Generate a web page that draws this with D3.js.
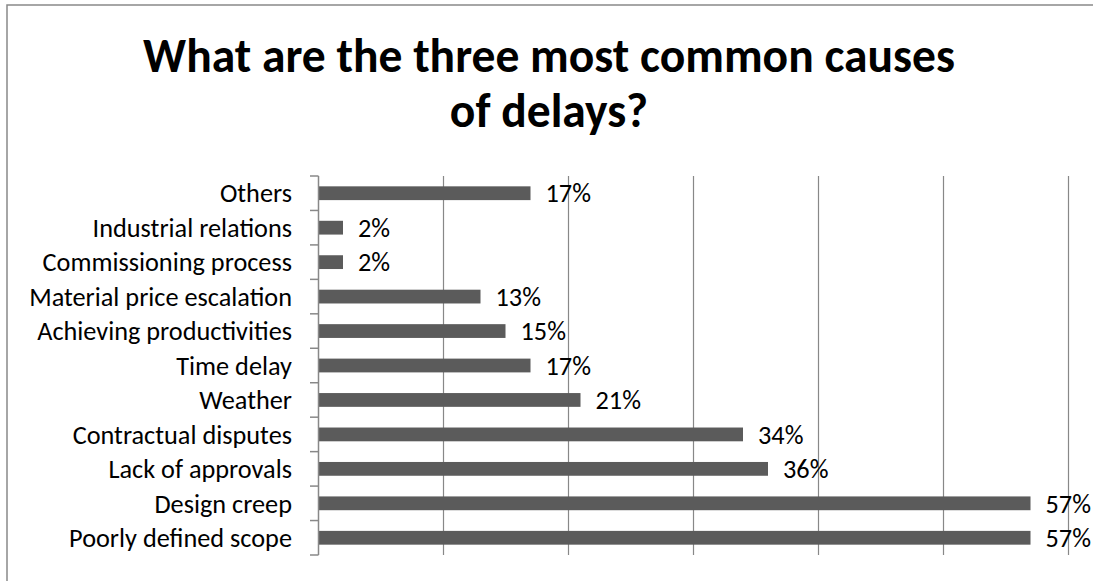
<!DOCTYPE html>
<html><head><meta charset="utf-8">
<script src="https://cdn.jsdelivr.net/npm/d3@7"></script>
<style>body{margin:0;background:#fff;} svg{display:block;}</style>
</head><body>
<svg id="c" width="1093" height="581"></svg>
<script>
const categories = ["Poorly defined scope","Design creep","Lack of approvals","Contractual disputes","Weather","Time delay","Achieving productivities","Material price escalation","Commissioning process","Industrial relations","Others"];
const values = [57,57,36,34,21,17,15,13,2,2,17];
const xTicks = [0,10,20,30,40,50,60];
const titleLines = ["What are the three most common causes","of delays?"];

const FONT = "Carlito, Calibri, Lato, 'Open Sans', sans-serif";
const svg = d3.select("#c");
svg.append("rect").attr("x",0).attr("y",0).attr("width",1093).attr("height",581).attr("fill","#fff");
// frame
svg.append("path").attr("d","M7,590 L7,5 L1100,5").attr("fill","none").attr("stroke","#898989").attr("stroke-width",1.5);

const x = d3.scaleLinear().domain([0,60]).range([318,1068]);
const y = d3.scaleBand().domain(categories.slice().reverse()).range([176,555]).paddingInner(0.6).paddingOuter(0.3);
const yb = d3.scaleBand().domain(categories.slice().reverse()).range([176,555]);

// gridlines
svg.append("g").selectAll("line").data(xTicks.slice(1)).join("line")
  .attr("x1",d=>x(d)+0.5).attr("x2",d=>x(d)+0.5).attr("y1",176).attr("y2",555)
  .attr("stroke","#888").attr("stroke-width",1.2);

// bars
svg.append("g").selectAll("rect").data(categories).join("rect")
  .attr("x",x(0)).attr("y",(d)=>y(d)).attr("height",y.bandwidth())
  .attr("width",(d,i)=>x(values[i])-x(0)).attr("fill","#5b5b5b");

// y axis
const ax = svg.append("g");
ax.append("line").attr("x1",318.5).attr("x2",318.5).attr("y1",176).attr("y2",555).attr("stroke","#888").attr("stroke-width",1.5);
const bounds = yb.domain().map(d=>yb(d)).concat([555]);
ax.selectAll("line.t").data(bounds).join("line").attr("class","t")
  .attr("x1",310).attr("x2",318.5).attr("y1",d=>d).attr("y2",d=>d).attr("stroke","#888").attr("stroke-width",1.5);

// category labels
const labs = svg.append("g").selectAll("text").data(categories).join("text")
  .attr("x",292).attr("y",d=>yb(d)+yb.bandwidth()/2).attr("dy","0.35em")
  .attr("text-anchor","end").attr("font-family",FONT).attr("font-size",20).attr("fill","#000")
  .text(d=>d);
// fit font size so "Poorly defined scope" spans ~223px
const w0 = labs.filter(d=>d==="Poorly defined scope").node().getComputedTextLength();
const fs = 20*223/w0;
labs.attr("font-size",fs);

// value labels
svg.append("g").selectAll("text").data(categories).join("text")
  .attr("x",(d,i)=>x(values[i])+15).attr("y",d=>yb(d)+yb.bandwidth()/2).attr("dy","0.35em")
  .attr("font-family",FONT).attr("font-size",fs).attr("fill","#000")
  .text((d,i)=>values[i]+"%");

// title
const t1 = svg.append("text").attr("x",549).attr("y",72).attr("text-anchor","middle")
  .attr("font-family",FONT).attr("font-weight","bold").attr("font-size",40).attr("fill","#000").text(titleLines[0]);
const tw = t1.node().getComputedTextLength();
const tfs = 40*812/tw;
t1.attr("font-size",tfs);
svg.append("text").attr("x",549).attr("y",127).attr("text-anchor","middle")
  .attr("font-family",FONT).attr("font-weight","bold").attr("font-size",tfs).attr("fill","#000").text(titleLines[1]);
</script>
</body></html>
